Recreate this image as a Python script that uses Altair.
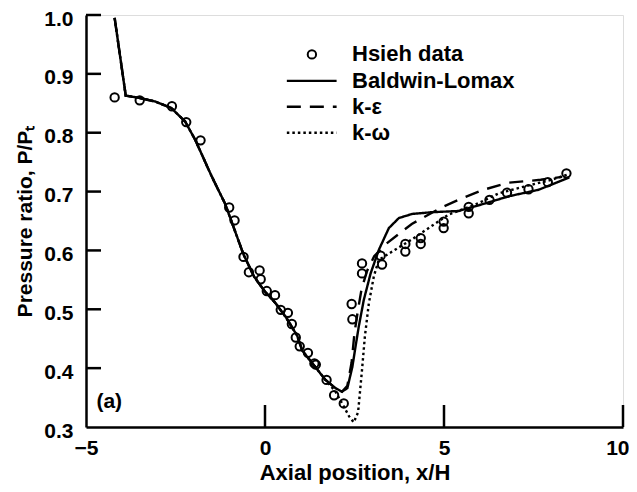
import altair as alt
import pandas as pd

FONT = "Liberation Sans"
FW = "bold"

# Hsieh experimental data
hsieh_x = [-4.2, -3.5, -2.6, -2.2, -1.8, -1.0, -0.85, -0.6, -0.45, -0.15, -0.12, 0.05,
           0.28, 0.44, 0.64, 0.75, 0.86, 0.97, 1.2, 1.38, 1.42, 1.72, 1.93, 2.2,
           2.42, 2.44, 2.71, 2.71, 3.23, 3.27, 3.92, 3.92, 4.35, 4.35, 4.99, 4.99,
           5.69, 5.69, 6.27, 6.76, 7.36, 7.9, 8.42]
hsieh_y = [0.86, 0.855, 0.845, 0.818, 0.787, 0.673, 0.651, 0.589, 0.563, 0.566, 0.551, 0.531,
           0.524, 0.499, 0.494, 0.475, 0.452, 0.437, 0.426, 0.408, 0.406, 0.380, 0.354, 0.340,
           0.509, 0.483, 0.578, 0.561, 0.591, 0.576, 0.611, 0.598, 0.621, 0.611, 0.649, 0.638,
           0.674, 0.663, 0.686, 0.698, 0.704, 0.716, 0.731]

# Baldwin-Lomax
bl_x = [-4.2, -3.89, -3.5, -3.07, -2.62, -2.23, -1.95, -1.49, -1.12, -0.88, -0.6, -0.3,
        0.0, 0.3, 0.6, 0.9, 1.04, 1.3, 1.69, 1.97, 2.15, 2.3, 2.44, 2.53, 2.62, 2.76,
        2.95, 3.18, 3.46, 3.74, 4.11, 4.67, 5.41, 6.16, 6.81, 7.64, 8.5]
bl_y = [0.995, 0.863, 0.859, 0.853, 0.842, 0.819, 0.788, 0.726, 0.68, 0.64, 0.593, 0.555,
        0.53, 0.51, 0.485, 0.455, 0.43, 0.41, 0.38, 0.366, 0.36, 0.366, 0.402, 0.437, 0.471, 0.516,
        0.561, 0.601, 0.638, 0.655, 0.662, 0.665, 0.667, 0.68, 0.692, 0.703, 0.724]

# k-epsilon
ke_x = [-4.2, -3.89, -3.5, -3.07, -2.62, -2.23, -1.95, -1.49, -1.12, -0.88, -0.6, -0.3,
        0.0, 0.3, 0.6, 0.9, 1.04, 1.3, 1.69, 1.97, 2.15, 2.3, 2.42, 2.5, 2.6, 2.7, 2.85,
        3.05, 3.4, 3.74, 4.1, 4.6, 5.0, 5.4, 6.1, 6.8, 7.7, 8.3]
ke_y = [0.995, 0.863, 0.859, 0.853, 0.842, 0.819, 0.788, 0.726, 0.68, 0.64, 0.593, 0.555,
        0.53, 0.51, 0.485, 0.455, 0.43, 0.41, 0.38, 0.366, 0.36, 0.37, 0.41, 0.46, 0.50, 0.535, 0.565,
        0.59, 0.612, 0.628, 0.645, 0.662, 0.675, 0.686, 0.703, 0.715, 0.72, 0.725]

# k-omega
kw_x = [-4.2, -3.89, -3.5, -3.07, -2.62, -2.23, -1.95, -1.49, -1.12, -0.88, -0.6, -0.3,
        0.0, 0.3, 0.6, 0.9, 1.04, 1.3, 1.69, 1.97, 2.2, 2.35, 2.48, 2.6, 2.71, 2.79, 2.9,
        3.04, 3.18, 3.55, 4.11, 4.62, 5.13, 5.88, 6.53, 7.27, 8.0, 8.5]
kw_y = [0.995, 0.863, 0.859, 0.853, 0.842, 0.819, 0.788, 0.726, 0.68, 0.64, 0.593, 0.555,
        0.53, 0.51, 0.485, 0.455, 0.43, 0.41, 0.38, 0.36, 0.335, 0.318, 0.308, 0.325, 0.397, 0.454, 0.51,
        0.556, 0.584, 0.598, 0.619, 0.64, 0.661, 0.678, 0.697, 0.709, 0.72, 0.73]

series_names = ["Baldwin-Lomax", "k-\u03b5", "k-\u03c9"]
dash_styles = [[1, 0], [14, 9], [2.5, 3]]

x_tick_values = [-5, 0, 5, 10]
y_tick_values = [0.3, 0.4, 0.5, 0.6, 0.7, 0.8, 0.9, 1.0]
x_inner_ticks = [0, 5, 10]
y_inner_ticks = [0.4, 0.5, 0.6, 0.7, 0.8, 0.9, 1.0]

legend_labels = ["Hsieh data", "Baldwin-Lomax", "k-\u03b5", "k-\u03c9"]
legend_y = [0.933, 0.888, 0.844, 0.800]
legend_line_x = [0.61, 2.0]
legend_marker_x = 1.31
legend_text_x = 2.43

panel_label = "(a)"
panel_label_pos = (-4.35, 0.343)

# ---------- build tables ----------
pts = pd.DataFrame({"x": hsieh_x, "y": hsieh_y})
rows = []
for name, xs_, ys_ in zip(series_names, [bl_x, ke_x, kw_x], [bl_y, ke_y, kw_y]):
    for i, (a, b) in enumerate(zip(xs_, ys_)):
        rows.append({"x": a, "y": b, "series": name, "i": i})
lines = pd.DataFrame(rows)

xs = alt.Scale(domain=[-5, 10], nice=False, zero=False)
ys = alt.Scale(domain=[0.3, 1.0], nice=False, zero=False)
xa = alt.Axis(values=x_tick_values, format="d", grid=False, ticks=False,
              domainWidth=2.5, domainColor="black", labelFont=FONT, labelFontSize=21,
              labelFontWeight=FW,
              labelAlign={"condition": {"test": "datum.value == 10", "value": "right"},
                          "value": "center"},
              labelOffset={"condition": {"test": "datum.value == 10", "value": 6},
                           "value": 0},
              labelColor="black", labelPadding=10, labelFlush=False,
              title="Axial position, x/H", titleFont=FONT, titleFontSize=22,
              titleFontWeight=FW, titleColor="black", titleY=52,
              titleBaseline="alphabetic")
ya = alt.Axis(values=y_tick_values, format=".1f", grid=False, ticks=False,
              domainWidth=2.5, domainColor="black", labelFont=FONT, labelFontSize=21,
              labelFontWeight=FW,
              labelColor="black", labelPadding=13, labelOffset=4, labelFlush=False,
              title="Pressure ratio, P/P\u209c", titleFont=FONT, titleFontSize=21,
              titleFontWeight=FW, titleColor="black", titleX=-55,
              titleBaseline="alphabetic")


def X(f):
    return alt.X(f, type="quantitative", scale=xs, axis=xa)


def Y(f):
    return alt.Y(f, type="quantitative", scale=ys, axis=ya)


dash_scale = alt.Scale(domain=series_names, range=dash_styles)

line_layer = alt.Chart(lines).mark_line(color="black", strokeWidth=2.4, clip=True).encode(
    x=X("x"), y=Y("y"),
    strokeDash=alt.StrokeDash("series:N", scale=dash_scale, legend=None),
    detail="series:N", order="i:Q")

point_layer = alt.Chart(pts).mark_point(shape="circle", filled=False, size=70,
                                        strokeWidth=2, color="black", opacity=1).encode(
    x=X("x"), y=Y("y"))

ytick_layer = alt.Chart(pd.DataFrame({"v": y_inner_ticks})).mark_rule(
    color="black", strokeWidth=2.5).encode(y=Y("v"), x=alt.value(0), x2=alt.value(15))
xtick_layer = alt.Chart(pd.DataFrame({"v": x_inner_ticks})).mark_rule(
    color="black", strokeWidth=2.5).encode(x=X("v"), y=alt.value(412), y2=alt.value(390))

leg_lines = pd.DataFrame({"x1": [legend_line_x[0]] * 3, "x2": [legend_line_x[1]] * 3,
                          "y": legend_y[1:], "series": series_names})
leg_line_layer = alt.Chart(leg_lines).mark_rule(color="black", strokeWidth=2.4).encode(
    x=X("x1"), x2="x2", y=Y("y"),
    strokeDash=alt.StrokeDash("series:N", scale=dash_scale, legend=None))
leg_pt_layer = alt.Chart(pd.DataFrame({"x": [legend_marker_x], "y": [legend_y[0]]})).mark_point(
    shape="circle", filled=False, size=70, strokeWidth=2, color="black", opacity=1).encode(
    x=X("x"), y=Y("y"))
leg_text = pd.DataFrame({"x": [legend_text_x] * 4, "y": legend_y, "label": legend_labels})
leg_text_layer = alt.Chart(leg_text).mark_text(align="left", baseline="middle", font=FONT,
                                               fontSize=22, fontWeight=FW,
                                               color="black").encode(
    x=X("x"), y=Y("y"), text="label:N")

panel_layer = alt.Chart(pd.DataFrame({"x": [panel_label_pos[0]], "y": [panel_label_pos[1]],
                                      "t": [panel_label]})).mark_text(
    align="center", baseline="middle", font=FONT, fontSize=21, fontWeight=FW,
    color="black").encode(
    x=X("x"), y=Y("y"), text="t:N")

chart = alt.layer(line_layer, point_layer, ytick_layer, xtick_layer, leg_line_layer,
                  leg_pt_layer, leg_text_layer, panel_layer).properties(
    width=537, height=412,
    autosize=alt.AutoSizeParams(type="none"),
    padding={"left": 78, "top": 7, "right": 6, "bottom": 57},
).configure_view(stroke=None).configure(background="white")

chart.save("out.html", embed_options={"renderer": "svg", "actions": False})
